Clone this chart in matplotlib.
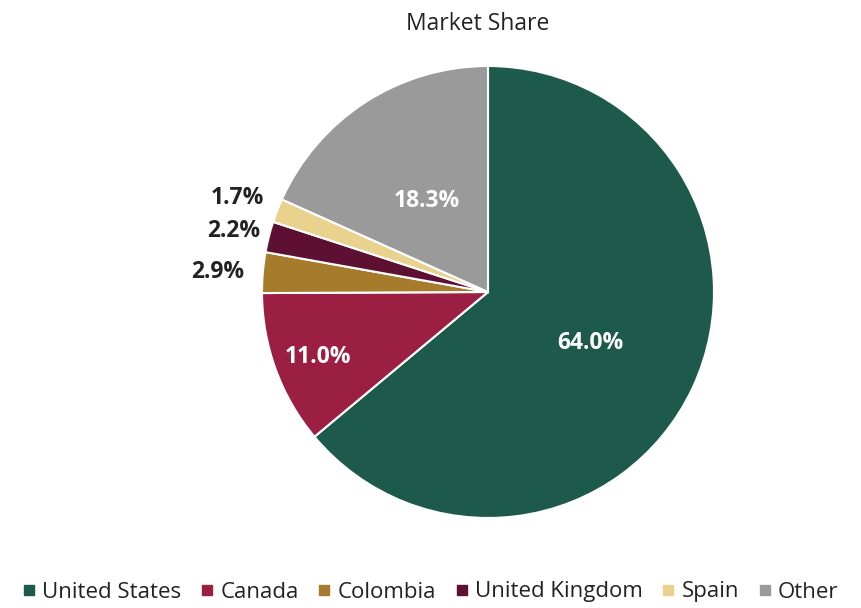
import numpy as np
import matplotlib.pyplot as plt
from matplotlib.lines import Line2D

plt.rcParams["font.family"] = ["Open Sans", "DejaVu Sans"]

countries = ["United States", "Canada", "Colombia", "United Kingdom", "Spain", "Other"]
shares = [64.0, 11.0, 2.9, 2.2, 1.7, 18.3]
colors = ["#1E5A4B", "#9B1F43", "#A67B2B", "#5E1032", "#E9D28E", "#9A9A9A"]
# label placement: inside (white) for big slices, outside (black) for small ones
label_dist = [0.50, 0.80, 1.20, 1.16, 1.19, 0.50]
label_color = ["white", "white", "#222222", "#222222", "#222222", "white"]

W, H = 862, 608
fig = plt.figure(figsize=(W / 100, H / 100), dpi=100)
cx, cy, r = 488, 292, 226
ax = fig.add_axes([(cx - r) / W, (H - cy - r) / H, 2 * r / W, 2 * r / H])

wedges, _ = ax.pie(shares, colors=colors, startangle=90, counterclock=False,
                   wedgeprops=dict(edgecolor="white", linewidth=1.5))
ax.set_xlim(-1, 1)
ax.set_ylim(-1, 1)
ax.set_aspect("equal")

for w, val, d, c in zip(wedges, shares, label_dist, label_color):
    ang = np.deg2rad((w.theta1 + w.theta2) / 2)
    ax.text(d * np.cos(ang), d * np.sin(ang) - 0.015, f"{val:.1f}%", ha="center", va="center",
            fontsize=16.5, fontweight="bold", color=c, clip_on=False)

fig.text(478 / W, 1 - 24 / H, "Market Share", ha="center", va="center", fontsize=16.5, color="#222222")

handles = [Line2D([], [], marker="s", linestyle="none", markersize=7, color=c) for c in colors]
fig.legend(handles, countries, loc="center", bbox_to_anchor=(0.5, 1 - 592 / H), ncol=6,
           frameon=False, fontsize=16, handlelength=0.5, handletextpad=0.35, columnspacing=0.9,
           labelcolor="#222222", borderpad=0.1)

fig.savefig("out.png", dpi=100, facecolor="white")
